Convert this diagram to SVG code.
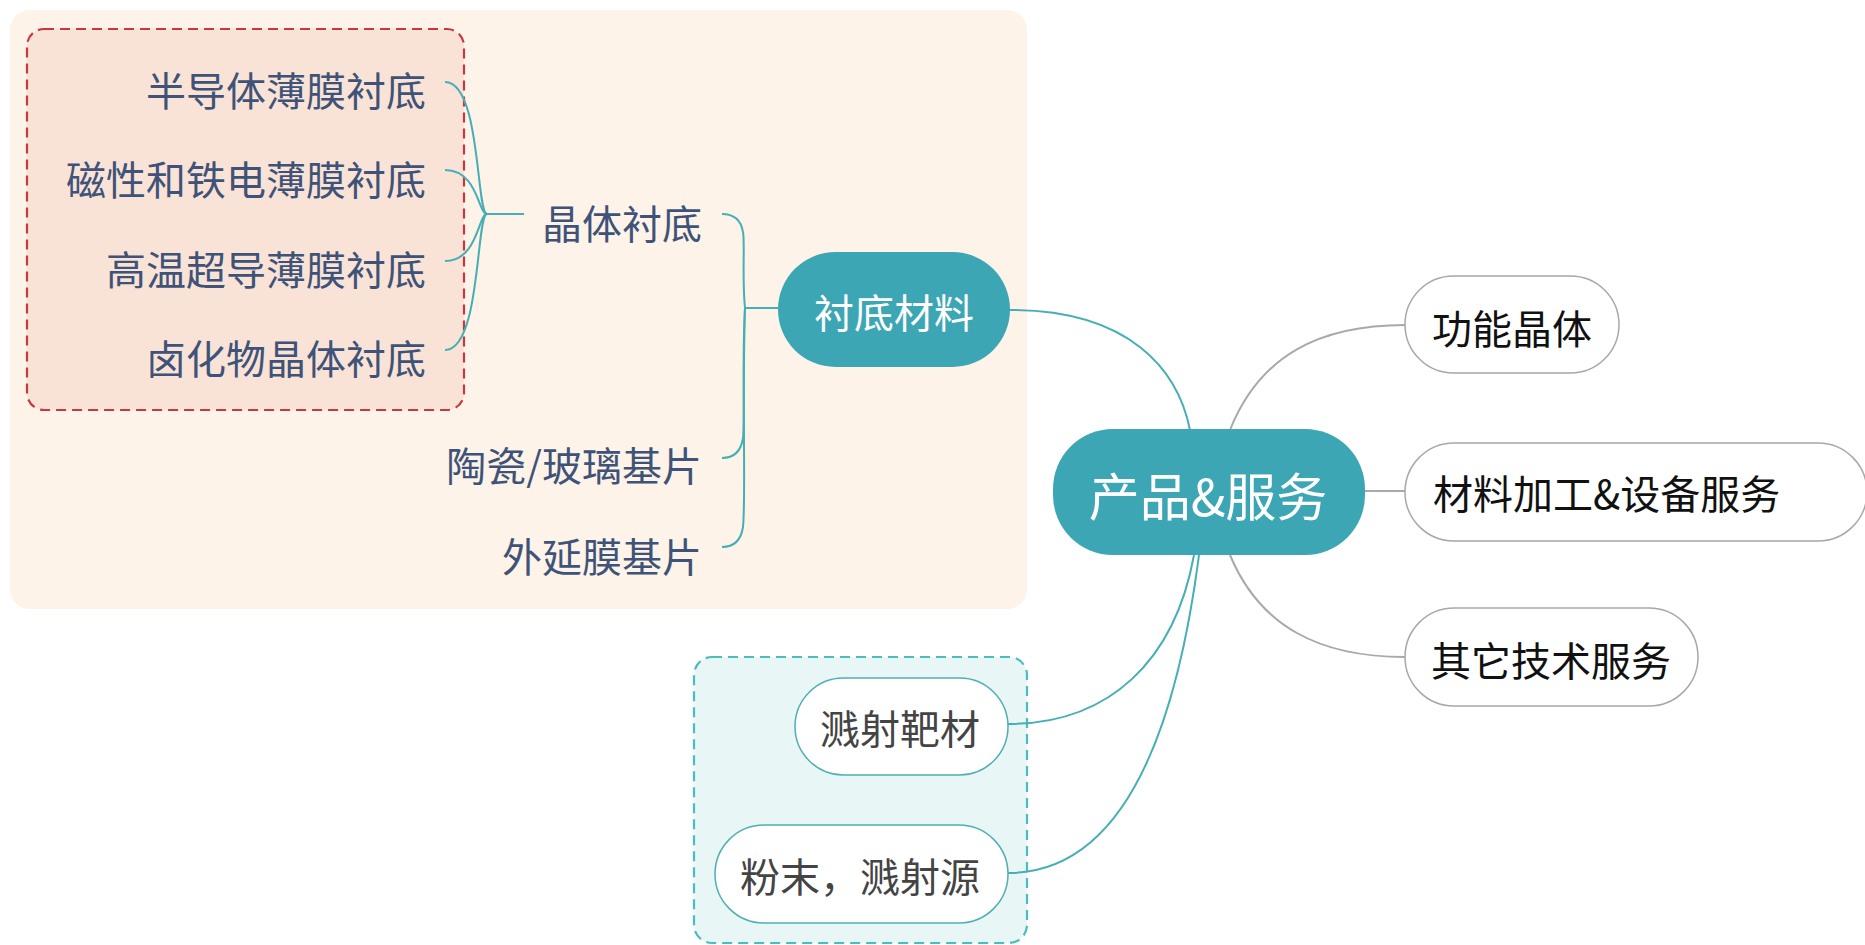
<svg xmlns="http://www.w3.org/2000/svg" width="1865" height="945" viewBox="0 0 1865 945">
<style>
text{font-family:"Noto Sans CJK SC","Noto Sans",sans-serif;font-size:40px;dominant-baseline:central}
.blue{fill:#3f5378}
.teal{fill:none;stroke:#45afb5;stroke-width:2}
.gray{fill:none;stroke:#a9a9a9;stroke-width:2}
.pill{fill:#3da6b5}
.wbox{fill:#fff;stroke:#a8a8a8;stroke-width:1.5}
.tbox{fill:#fff;stroke:#4fb0b3;stroke-width:1.5}
</style>
<rect width="1865" height="945" fill="#fff"/>
<g id="bg-substrate"><rect x="10" y="10" width="1017" height="599" rx="20" fill="#fdf3e8"/></g>
<g id="bg-crystal"><rect x="27" y="29" width="437" height="381" rx="17" fill="#f9e3d7" stroke="#c8363f" stroke-width="2.2" stroke-dasharray="10,6"/></g>
<g id="bg-sputter"><rect x="694" y="657" width="333" height="286" rx="18" fill="#e8f6f6" stroke="#4cbcbc" stroke-width="2.2" stroke-dasharray="10,6"/></g>
<g id="connectors">
<path class="teal" d="M524 214 L487 214"/>
<path class="teal" d="M487 214 C476 214 481 82 445 82"/>
<path class="teal" d="M487 214 C478 214 478 170 445 170"/>
<path class="teal" d="M487 214 C478 214 478 261 445 261"/>
<path class="teal" d="M487 214 C476 214 481 350 445 350"/>
<path class="teal" d="M778 308 L745 308"/>
<path class="teal" d="M745 308 C742 280 745 240 743 232 Q740 214 722 214"/>
<path class="teal" d="M745 308 C742 360 745 420 743 438 Q740 458 722 458"/>
<path class="teal" d="M745 308 C742 400 746 500 743 527 Q740 547 722 547"/>
<path class="teal" d="M1010 310 C1130 310 1178 370 1190 430"/>
<path class="teal" d="M1194 555 C1175 660 1110 724 1008 724"/>
<path class="teal" d="M1199 555 C1175 740 1120 873 1008 873"/>
<path class="gray" d="M1230 430 C1260 355 1320 325 1405 325"/>
<path class="gray" d="M1365 491 L1405 491"/>
<path class="gray" d="M1230 555 C1260 627 1320 657 1405 657"/>
</g>
<g id="n-semi"><text class="blue" x="426" y="89" text-anchor="end">半导体薄膜衬底</text></g>
<g id="n-mag"><text class="blue" x="426" y="178" text-anchor="end">磁性和铁电薄膜衬底</text></g>
<g id="n-htsc"><text class="blue" x="426" y="268" text-anchor="end">高温超导薄膜衬底</text></g>
<g id="n-halide"><text class="blue" x="426" y="357" text-anchor="end">卤化物晶体衬底</text></g>
<g id="n-crystal"><text class="blue" x="702" y="222" text-anchor="end">晶体衬底</text></g>
<g id="n-ceramic"><text class="blue" x="702" y="464" text-anchor="end">陶瓷/玻璃基片</text></g>
<g id="n-epi"><text class="blue" x="702" y="555" text-anchor="end">外延膜基片</text></g>
<g id="n-substrate"><rect class="pill" x="778" y="252" width="232" height="115" rx="57.5"/><text x="894" y="311" text-anchor="middle" fill="#fff">衬底材料</text></g>
<g id="n-center"><rect class="pill" x="1053" y="429" width="312" height="126" rx="60"/><text x="1208" y="494" text-anchor="middle" fill="#fff" style="font-size:51px">产品&amp;服务</text></g>
<g id="n-func"><rect class="wbox" x="1405" y="276" width="214" height="97" rx="48.5"/><text x="1512" y="327" text-anchor="middle" fill="#111">功能晶体</text></g>
<g id="n-proc"><rect class="wbox" x="1405" y="443" width="462" height="98" rx="49"/><text x="1433" y="492" fill="#111">材料加工&amp;设备服务</text></g>
<g id="n-other"><rect class="wbox" x="1405" y="608" width="293" height="98" rx="49"/><text x="1551" y="659" text-anchor="middle" fill="#111">其它技术服务</text></g>
<g id="n-target"><rect class="tbox" x="795" y="678" width="213" height="97" rx="48.5"/><text x="900" y="727" text-anchor="middle" fill="#444">溅射靶材</text></g>
<g id="n-powder"><rect class="tbox" x="715" y="825" width="293" height="98" rx="49"/><text x="860" y="875" text-anchor="middle" fill="#444">粉末，溅射源</text></g>
</svg>
